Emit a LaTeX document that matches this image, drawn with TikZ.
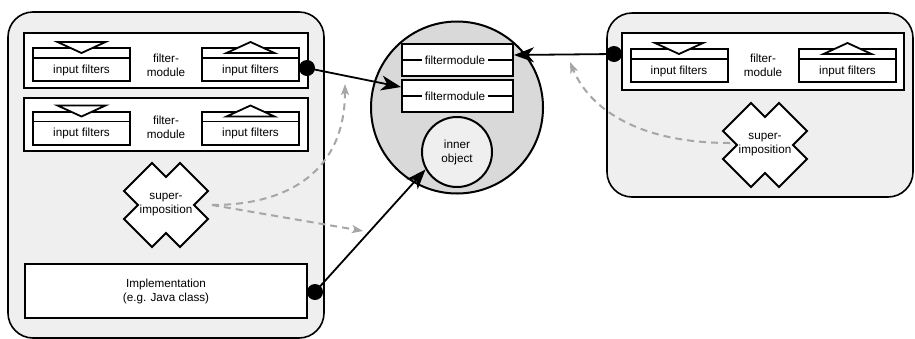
\documentclass[tikz,border=0pt]{standalone}
\usepackage{fontspec}
\setmainfont{Liberation Sans}
\usetikzlibrary{arrows.meta,calc}
\definecolor{panelgray}{HTML}{EFEFEF}
\definecolor{objgray}{HTML}{D9D9D9}
\definecolor{dashgray}{HTML}{A6A6A6}

% input-filter box: name, centre, y of triangle base, y of triangle apex
\newcommand\infilt[4]{%
  \node[ifbox] (#1) at (#2) {};
  \draw[line width=1.5pt] ([yshift=-11pt]#1.north west) -- ([yshift=-11pt]#1.north east);
  \draw[tri] ([shift={(-24,#3)}]#1.north) -- ([shift={(24,#3)}]#1.north)
             -- ([shift={(0,#4)}]#1.north) -- cycle;
  \node[inner sep=0pt] (#1-t) at ([yshift=-5.5pt]#1.center) {input filters};}

% cross-shaped superimposition symbol: name, centre
\newcommand\superpos[2]{%
  \draw[xsh, shift={(#2)}] (0,-28) -- (14,-42) -- (42,-14) -- (28,0) -- (42,14)
     -- (14,42) -- (0,28) -- (-14,42) -- (-42,14) -- (-28,0) -- (-42,-14)
     -- (-14,-42) -- cycle;
  \node[align=center, inner sep=0pt] (#1) at (#2) {super-\\imposition};}

\begin{document}
\begin{tikzpicture}[x=1pt, y=-1pt,
  font=\fontsize{11.7}{14}\selectfont,
  panel/.style={draw=black, line width=1.6pt, fill=panelgray, rounded corners=25pt},
  modbox/.style={draw=black, line width=2pt, fill=white, inner sep=0pt},
  ifbox/.style={draw=black, line width=2pt, fill=white, inner sep=0pt,
                minimum width=97pt, minimum height=33pt},
  tri/.style={draw=black, line width=1.8pt, fill=white, line join=miter},
  xsh/.style={draw=black, line width=1.8pt, fill=white, line join=miter},
  modtxt/.style={align=center, inner sep=0pt},
  dot/.style={circle, fill=black, minimum size=16pt, inner sep=0pt},
  conn/.style={line width=1.8pt, -{Stealth[length=20pt, width=15pt, inset=6pt]}},
  dconn/.style={draw=dashgray, line width=2pt, dash pattern=on 7pt off 5pt,
                -{Stealth[length=11pt, width=8pt, inset=2.5pt]}}]
\useasboundingbox (0,0) rectangle (915,338);

% ---------- left component ----------
\draw[panel] (8,12) rectangle (324,338);

\node[modbox, minimum width=284pt, minimum height=55pt] (lm1) at (166,60.5) {};
\infilt{lm1a}{81.5,64.5}{-5}{6}
\infilt{lm1b}{250.5,64.5}{6}{-5}
\node[modtxt] (lm1t) at (166,65) {filter-\\module};

\node[modbox, minimum width=284pt, minimum height=53pt] (lm2) at (166,124.5) {};
\infilt{lm2a}{81.5,128}{-5}{6}
\infilt{lm2b}{250.5,128}{6}{-5}
\node[modtxt] (lm2t) at (166,127.5) {filter-\\module};

\superpos{sup1}{166,205}

\node[modbox, minimum width=282pt, minimum height=54pt, align=center] (impl)
  at (166,291) {Implementation\\(e.g. Java class)};

% ---------- right component ----------
\draw[panel] (607,13) rectangle (913,197);

\node[modbox, minimum width=282pt, minimum height=57pt] (rm1) at (763,61.5) {};
\infilt{rm1a}{679,65.5}{-5}{6}
\infilt{rm1b}{847.5,65.5}{6}{-5}
\node[modtxt] (rm1t) at (763,65) {filter-\\module};

\coordinate (s2) at (730,143);
\coordinate (g3end) at (570,62);
\draw[dconn] (s2) .. controls (640,143) and (590,110) .. (g3end);

\superpos{sup2}{765,145}

% ---------- composed object ----------
\node[circle, draw=black, line width=2pt, fill=objgray, minimum size=172pt,
      inner sep=0pt] (obj) at (457,107.5) {};
\node[modbox, minimum width=111pt, minimum height=32pt] (fm1) at (457.5,60) {};
\draw[line width=1.5pt] (fm1.west) -- (fm1.east);
\node[fill=white, inner sep=2.5pt] (fm1t) at (455,60) {filtermodule};
\node[modbox, minimum width=111pt, minimum height=32pt] (fm2) at (457.5,96) {};
\draw[line width=1.5pt] (fm2.west) -- (fm2.east);
\node[fill=white, inner sep=2.5pt] (fm2t) at (455,96) {filtermodule};
\node[circle, draw=black, line width=2pt, fill=panelgray, minimum size=70pt,
      inner sep=0pt, align=center] (inner) at (457,152) {inner\\object};

% ---------- connectors ----------
\coordinate (s1) at (212,205);
\coordinate (g1end) at (345,84);
\coordinate (g2end) at (363,231);
\draw[dconn] (s1) .. controls (290,205) and (345,170) .. (g1end);
\draw[dconn] (s1) -- (g2end);

\node[dot] (d1) at (307,68) {};
\node[dot] (d2) at (315,292) {};
\node[dot] (d3) at (614,54) {};

\draw[conn] (d1.center) -- ([yshift=-8pt]fm2.north west);
\draw[conn] (d3.center) -- ([yshift=5pt]fm1.east);
\draw[conn] (d2.center) -- (inner.209);
\end{tikzpicture}
\end{document}
